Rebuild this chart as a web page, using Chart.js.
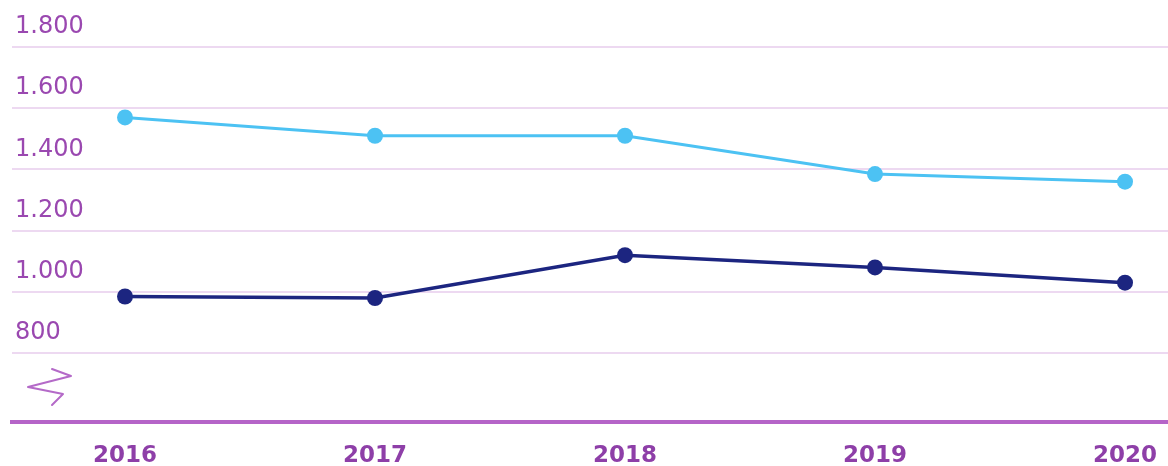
<!DOCTYPE html>
<html>
<head>
<meta charset="utf-8">
<script src="https://cdn.jsdelivr.net/npm/chart.js@4/dist/chart.umd.min.js"></script>
<style>
  html, body { margin: 0; padding: 0; background: #fff; overflow: hidden; }
  #wrap { width: 1168px; height: 466px; position: relative; overflow: hidden; }
</style>
</head>
<body>
<div id="wrap"><canvas id="chart" width="1168" height="466"></canvas></div>
<script>
// data
const years = [2016, 2017, 2018, 2019, 2020];
const lightSeries = [1570, 1510, 1510, 1385, 1360];
const darkSeries = [985, 980, 1120, 1080, 1030];
const yTicks = [800, 1000, 1200, 1400, 1600, 1800];

const purple = "#9a48b0";

// european thousand separator: 1.800
function fmt(v) {
  return v >= 1000 ? Math.floor(v / 1000) + "." + String(v % 1000).padStart(3, "0") : String(v);
}

// little zigzag that marks the broken y axis
const axisBreak = {
  id: "axisBreak",
  afterDraw(chart) {
    const ctx = chart.ctx;
    ctx.save();
    ctx.strokeStyle = "#b46ac8";
    ctx.lineWidth = 2;
    ctx.lineJoin = "round";
    ctx.lineCap = "round";
    ctx.beginPath();
    ctx.moveTo(52, 369);
    ctx.lineTo(71, 376);
    ctx.lineTo(28, 387);
    ctx.lineTo(63, 394);
    ctx.lineTo(52, 405);
    ctx.stroke();
    ctx.restore();
  },
};

const toPoints = (arr) => arr.map((v, i) => ({ x: years[i], y: v }));

new Chart(document.getElementById("chart"), {
  type: "line",
  data: {
    datasets: [
      {
        data: toPoints(lightSeries),
        borderColor: "#4cc2f3",
        backgroundColor: "#4cc2f3",
        borderWidth: 3,
        pointRadius: 8,
        pointBorderWidth: 0,
        tension: 0,
      },
      {
        data: toPoints(darkSeries),
        borderColor: "#1c2580",
        backgroundColor: "#1c2580",
        borderWidth: 3.5,
        pointRadius: 8,
        pointBorderWidth: 0,
        tension: 0,
      },
    ],
  },
  options: {
    responsive: false,
    animation: false,
    devicePixelRatio: 1,
    // no auto padding, otherwise the point radius eats 8px on the right
    layout: { autoPadding: false, padding: { top: 47, left: 12, right: 0, bottom: 0 } },
    plugins: { legend: { display: false }, tooltip: { enabled: false } },
    scales: {
      x: {
        type: "linear",
        min: 2015.548,
        max: 2020.172,
        afterBuildTicks: (axis) => {
          axis.ticks = years.map((v) => ({ value: v }));
        },
        afterFit: (axis) => {
          axis.height = 44;
          axis.paddingLeft = 0;
          axis.paddingRight = 0;
        },
        grid: { display: false, drawTicks: false },
        border: { display: true, color: "#b564c8", width: 4 },
        ticks: {
          color: "#8e3fa8",
          padding: 20,
          maxRotation: 0,
          font: { family: "DejaVu Sans", size: 23, weight: "bold" },
          callback: (v) => String(v),
        },
      },
      y: {
        min: 575,
        max: 1800,
        afterBuildTicks: (axis) => {
          axis.ticks = yTicks.map((v) => ({ value: v }));
        },
        afterFit: (axis) => {
          axis.width = 0;
          axis.paddingTop = 0;
          axis.paddingBottom = 0;
        },
        grid: { color: "rgba(215,170,225,0.45)", lineWidth: 2, drawTicks: false },
        border: { display: false },
        ticks: {
          mirror: true,
          padding: 3,
          labelOffset: -20,
          color: purple,
          font: { family: "DejaVu Sans", size: 24 },
          callback: (v) => fmt(v),
        },
      },
    },
  },
  plugins: [axisBreak],
});
</script>
</body>
</html>
